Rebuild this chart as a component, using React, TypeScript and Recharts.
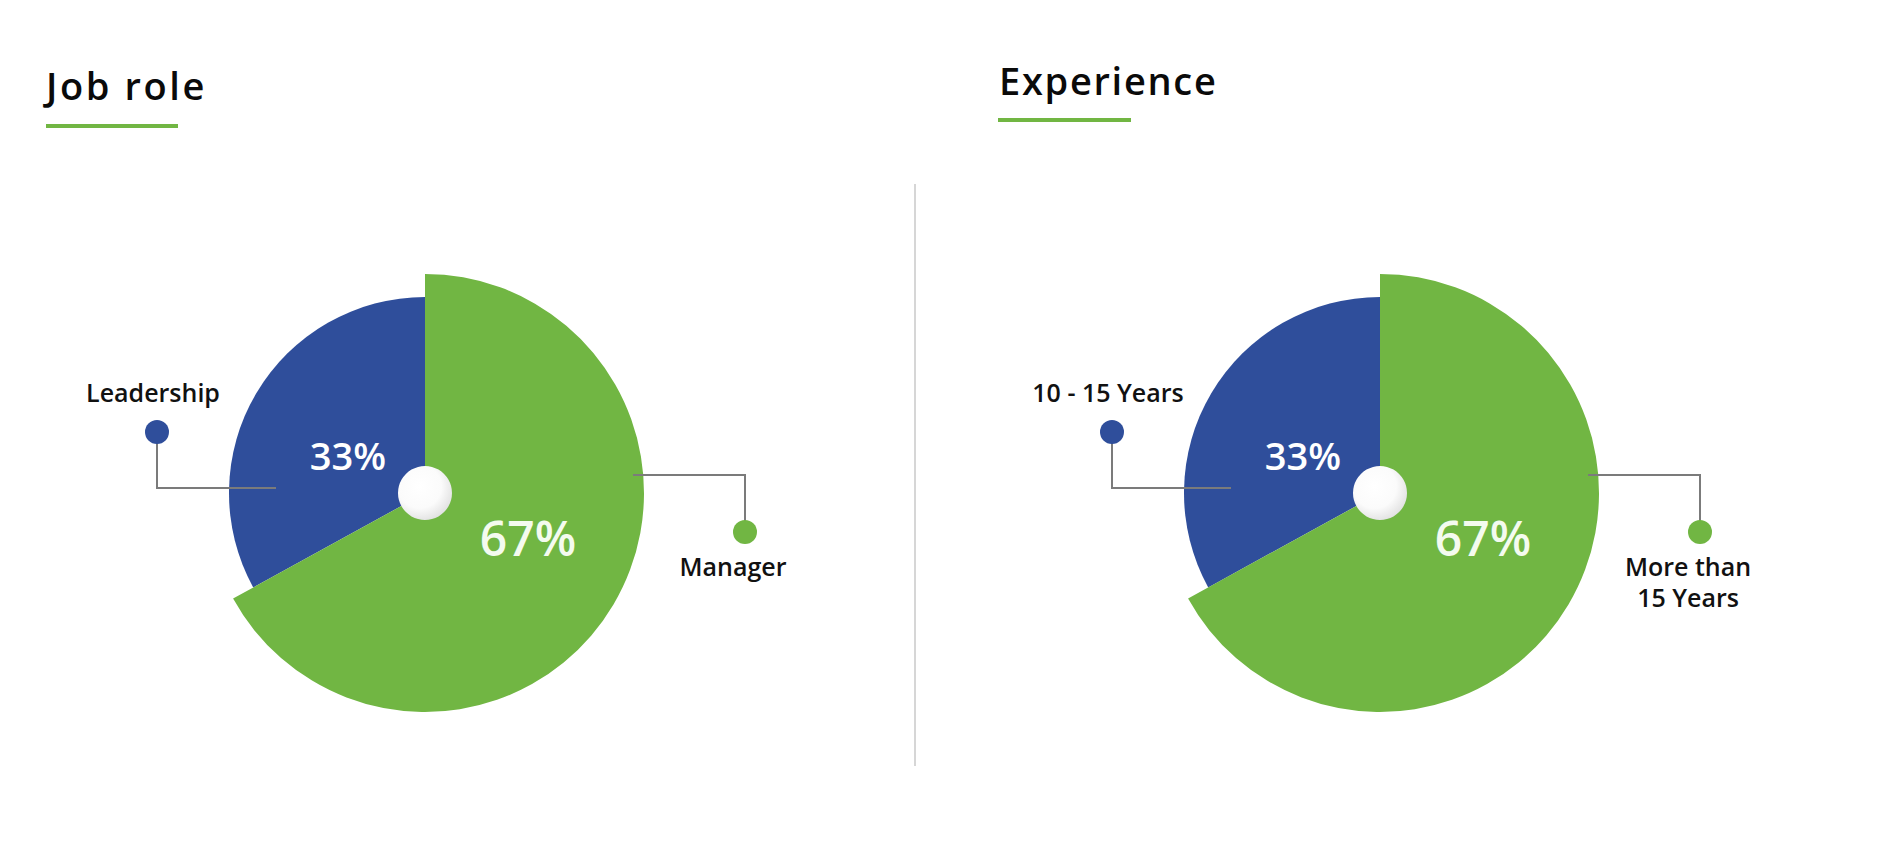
import { PieChart, Pie, Cell } from 'recharts';

// survey split
const roleNames = ['Leadership', 'Manager'];
const roleShares = [33, 67];
const expNames = ['10 - 15 Years', 'More than\n15 Years'];
const expShares = [33, 67];
const titles = ['Job role', 'Experience'];

const BLUE = '#2f4e9b';
const GREEN = '#71b643';
const FONT = '"Open Sans", "Noto Sans", sans-serif';
const W = 1878;
const H = 864;

const toRows = (names: string[], shares: number[]) =>
  names.map((name, i) => ({ name, value: shares[i] }));

const roleData = toRows(roleNames, roleShares);
const expData = toRows(expNames, expShares);
const knobData = [{ name: 'knob', value: 1 }];

function renderLabel(props: any) {
  const { cx, cy, index, name, value } = props;
  const lines = String(name).split('\n');

  if (index === 0) {
    const dx = cx - 268;
    const dy = cy - 61;
    return (
      <g>
        <path d={`M${dx},${dy} V${cy - 5} H${cx - 149}`} stroke="#7b7b7b" strokeWidth={2} fill="none" />
        <circle cx={dx} cy={dy} r={12} fill={BLUE} />
        <text x={dx - 4} y={cy - 91} textAnchor="middle" fontSize={25} fontWeight={600} fill="#111" fontFamily={FONT}>
          {lines[0]}
        </text>
        <text x={cx - 77} y={cy - 38} textAnchor="middle" dominantBaseline="central" fontSize={38} fontWeight={600} fill="#fff" fontFamily={FONT}>
          {value}%
        </text>
      </g>
    );
  }

  const dx = cx + 320;
  const dy = cy + 39;
  return (
    <g>
      <path d={`M${cx + 208},${cy - 18} H${dx} V${dy}`} stroke="#7b7b7b" strokeWidth={2} fill="none" />
      <circle cx={dx} cy={dy} r={12} fill={GREEN} />
      {lines.map((ln, i) => (
        <text key={i} x={dx - 12} y={cy + 83 + i * 31} textAnchor="middle" fontSize={25} fontWeight={600} fill="#111" fontFamily={FONT}>
          {ln}
        </text>
      ))}
      <text x={cx + 103} y={cy + 44} textAnchor="middle" dominantBaseline="central" fontSize={48} fontWeight={600} fill="#f4fbef" fontFamily={FONT}>
        {value}%
      </text>
    </g>
  );
}

function PiePair({ data, cx }: { data: { name: string; value: number }[]; cx: number }) {
  return [
    <Pie
      key="inner"
      data={data}
      dataKey="value"
      cx={cx}
      cy={493}
      outerRadius={196}
      startAngle={90}
      endAngle={450}
      stroke="none"
      isAnimationActive={false}
    >
      <Cell fill={BLUE} />
      <Cell fill="transparent" />
    </Pie>,
    <Pie
      key="outer"
      data={data}
      dataKey="value"
      cx={cx}
      cy={493}
      outerRadius={219}
      startAngle={90}
      endAngle={450}
      stroke="none"
      label={renderLabel}
      labelLine={false}
      isAnimationActive={false}
    >
      <Cell fill="transparent" />
      <Cell fill={GREEN} />
    </Pie>,
    <Pie
      key="knob"
      data={knobData}
      dataKey="value"
      cx={cx}
      cy={493}
      outerRadius={27}
      startAngle={90}
      endAngle={450}
      stroke="none"
      fill="url(#knobFill)"
      isAnimationActive={false}
    />,
  ];
}

export default function App() {
  return (
    <div style={{ position: 'absolute', left: 0, top: 0, width: W, height: H, background: '#fff' }}>
      <PieChart width={W} height={H} margin={{ top: 0, right: 0, bottom: 0, left: 0 }}>
        {PiePair({ data: roleData, cx: 425 })}
        {PiePair({ data: expData, cx: 1380 })}
      </PieChart>
      <svg width={W} height={H} style={{ position: 'absolute', left: 0, top: 0, pointerEvents: 'none' }}>
        <defs>
          <radialGradient id="knobFill" cx="40%" cy="38%" r="65%">
            <stop offset="0%" stopColor="#ffffff" />
            <stop offset="62%" stopColor="#fbfbfb" />
            <stop offset="100%" stopColor="#e2e2e2" />
          </radialGradient>
        </defs>
        <text x={46} y={100} fontSize={38} fontWeight={600} fill="#0a0a0a" fontFamily={FONT} letterSpacing={2.6}>
          {titles[0]}
        </text>
        <rect x={46} y={124} width={132} height={4} fill={GREEN} />
        <text x={999} y={95} fontSize={38} fontWeight={600} fill="#0a0a0a" fontFamily={FONT} letterSpacing={1.7}>
          {titles[1]}
        </text>
        <rect x={998} y={118} width={133} height={4} fill={GREEN} />
        <line x1={915} y1={184} x2={915} y2={766} stroke="#c9c9c9" strokeWidth={1.5} />
      </svg>
    </div>
  );
}
